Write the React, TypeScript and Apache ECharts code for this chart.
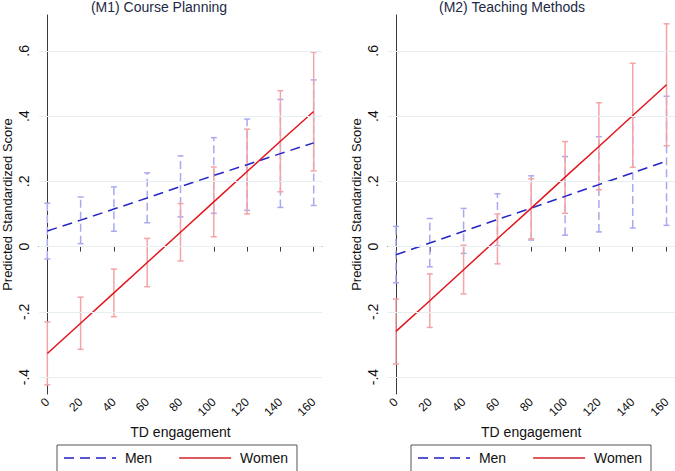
import React, { useEffect, useRef } from "react";
import * as echarts from "echarts";

const engagement = [0, 20, 40, 60, 80, 100, 120, 140, 160];
const xTickValues = [0, 20, 40, 60, 80, 100, 120, 140, 160];
const yTickValues = [-0.4, -0.2, 0, 0.2, 0.4, 0.6];
const yTickLabels = ["-.4", "-.2", "0", ".2", ".4", ".6"];

// (M1) Course Planning
const m1MenFit = [0.048, 0.081, 0.115, 0.149, 0.184, 0.218, 0.251, 0.285, 0.318];
const m1MenLo = [-0.038, 0.009, 0.047, 0.073, 0.091, 0.102, 0.111, 0.12, 0.126];
const m1MenHi = [0.133, 0.152, 0.183, 0.226, 0.278, 0.334, 0.391, 0.451, 0.511];
const m1WomenFit = [-0.328, -0.235, -0.142, -0.049, 0.044, 0.137, 0.23, 0.323, 0.414];
const m1WomenLo = [-0.424, -0.315, -0.215, -0.123, -0.044, 0.03, 0.1, 0.168, 0.232];
const m1WomenHi = [-0.231, -0.155, -0.069, 0.025, 0.132, 0.244, 0.36, 0.478, 0.596];

// (M2) Teaching Methods
const m2MenFit = [-0.025, 0.011, 0.047, 0.083, 0.118, 0.154, 0.19, 0.226, 0.262];
const m2MenLo = [-0.111, -0.062, -0.021, 0.002, 0.02, 0.035, 0.045, 0.057, 0.065];
const m2MenHi = [0.062, 0.086, 0.117, 0.162, 0.217, 0.276, 0.337, 0.397, 0.461];
const m2WomenFit = [-0.26, -0.166, -0.071, 0.024, 0.118, 0.213, 0.307, 0.402, 0.496];
const m2WomenLo = [-0.36, -0.248, -0.145, -0.053, 0.024, 0.102, 0.174, 0.243, 0.309];
const m2WomenHi = [-0.161, -0.084, 0.004, 0.1, 0.208, 0.322, 0.441, 0.562, 0.683];

const panelTitles = ["(M1) Course Planning", "(M2) Teaching Methods"];

const MEN_LINE = "#2626c8";
const WOMEN_LINE = "#e2161c";
const MEN_CI = "#a9a9ef";
const WOMEN_CI = "#f4a4a6";
const MEN_LEGEND = "#5656d2";
const WOMEN_LEGEND = "#e05a5e";
const FONT = "Liberation Sans";

function ciData(lo: number[], hi: number[]) {
  return engagement.map((x, i) => [x, lo[i], hi[i]]);
}

function fitData(fit: number[]) {
  return engagement.map((x, i) => [x, fit[i]]);
}

function ciSeries(name: string, idx: number, lo: number[], hi: number[], color: string, dashed: boolean, z: number) {
  return {
    type: "custom",
    name: name + " CI",
    xAxisIndex: idx,
    yAxisIndex: idx,
    z,
    silent: true,
    encode: { x: 0, y: [1, 2] },
    data: ciData(lo, hi),
    renderItem: (params: any, api: any) => {
      const x = api.value(0);
      const a = api.coord([x, api.value(1)]);
      const b = api.coord([x, api.value(2)]);
      const style = {
        stroke: color,
        lineWidth: 1.5,
        lineDash: dashed ? [8, 4] : null,
        fill: null,
      };
      const capStyle = { stroke: color, lineWidth: 1.5, fill: null };
      return {
        type: "group",
        children: [
          { type: "line", shape: { x1: a[0], y1: a[1], x2: b[0], y2: b[1] }, style },
          { type: "line", shape: { x1: a[0] - 3, y1: a[1], x2: a[0] + 3, y2: a[1] }, style: capStyle },
          { type: "line", shape: { x1: b[0] - 3, y1: b[1], x2: b[0] + 3, y2: b[1] }, style: capStyle },
        ],
      };
    },
  };
}

function fitSeries(name: string, idx: number, fit: number[], color: string, dashed: boolean, z: number) {
  return {
    type: "line",
    name,
    xAxisIndex: idx,
    yAxisIndex: idx,
    z,
    symbol: "none",
    showSymbol: false,
    data: fitData(fit),
    lineStyle: { color, width: 1.5, type: dashed ? [10, 6] : "solid" },
    itemStyle: { color },
  };
}

function gridSeries(idx: number) {
  return {
    type: "line",
    name: "grid" + idx,
    xAxisIndex: idx,
    yAxisIndex: idx,
    z: 0,
    data: [],
    silent: true,
    markLine: {
      silent: true,
      symbol: ["none", "none"],
      label: { show: false },
      lineStyle: { color: "#e6eef1", width: 1, type: "solid" },
      data: yTickValues.map((v) => ({ yAxis: v })),
    },
  };
}

function xAxisOpt(idx: number) {
  return {
    type: "value",
    gridIndex: idx,
    min: -5,
    max: 165,
    name: "TD engagement",
    nameLocation: "middle",
    nameGap: 30,
    nameTextStyle: { fontFamily: FONT, fontSize: 14, color: "#111" },
    axisLine: { show: true, lineStyle: { color: "#3a3a3a", width: 1 } },
    axisTick: { show: true, length: 5, lineStyle: { color: "#3a3a3a" }, customValues: xTickValues },
    axisLabel: {
      rotate: 45,
      margin: 6,
      fontFamily: FONT,
      fontSize: 12,
      color: "#111",
      customValues: xTickValues,
      formatter: (v: number) => String(v),
    },
    splitLine: { show: false },
  };
}

function yAxisOpt(idx: number) {
  return {
    type: "value",
    gridIndex: idx,
    min: -0.452,
    max: 0.71,
    name: "Predicted Standardized Score",
    nameLocation: "middle",
    nameRotate: 90,
    nameGap: 25,
    nameTextStyle: { fontFamily: FONT, fontSize: 13, color: "#111" },
    axisLine: { show: true, lineStyle: { color: "#3a3a3a", width: 1 } },
    axisTick: { show: true, length: 5, lineStyle: { color: "#3a3a3a" }, customValues: yTickValues },
    axisLabel: {
      rotate: 90,
      margin: 8,
      fontFamily: FONT,
      fontSize: 14,
      color: "#111",
      customValues: yTickValues,
      formatter: (v: number) => {
        const i = yTickValues.findIndex((t) => Math.abs(t - v) < 1e-6);
        return i >= 0 ? yTickLabels[i] : "";
      },
    },
    splitLine: { show: false },
  };
}

function legendOpt(left: number) {
  return {
    left,
    top: 445,
    orient: "horizontal",
    data: [
      { name: "Men", itemStyle: { opacity: 0 }, lineStyle: { color: MEN_LEGEND, width: 2 } },
      { name: "Women", itemStyle: { opacity: 0 }, lineStyle: { color: WOMEN_LEGEND, width: 2 } },
    ],
    formatter: (name: string) => " " + name,
    itemWidth: 52,
    itemHeight: 14,
    itemGap: 26,
    padding: [6, 9, 8, 6],
    borderColor: "#555",
    borderWidth: 1,
    backgroundColor: "#fff",
    selectedMode: false,
    itemStyle: { opacity: 0 },
    textStyle: { fontFamily: FONT, fontSize: 14, color: "#111" },
  };
}

export default function App() {
  const ref = useRef<HTMLDivElement>(null);
  useEffect(() => {
    document.body.style.margin = "0";
    const chart = echarts.init(ref.current!, null, { renderer: "svg" });
    chart.setOption({
      animation: false,
      backgroundColor: "#fff",
      title: [
        {
          text: panelTitles[0],
          left: 159,
          top: 0,
          textAlign: "center",
          padding: 0,
          textStyle: { fontFamily: FONT, fontSize: 14, fontWeight: "normal", color: "#1d2a44" },
        },
        {
          text: panelTitles[1],
          left: 512,
          top: 0,
          textAlign: "center",
          padding: 0,
          textStyle: { fontFamily: FONT, fontSize: 14, fontWeight: "normal", color: "#1d2a44" },
        },
      ],
      legend: [legendOpt(57), legendOpt(411)],
      grid: [
        { left: 35, top: 15, width: 287, height: 379, containLabel: false },
        { left: 387.5, top: 15, width: 288, height: 379, containLabel: false },
      ],
      xAxis: [xAxisOpt(0), xAxisOpt(1)],
      yAxis: [yAxisOpt(0), yAxisOpt(1)],
      series: [
        gridSeries(0),
        gridSeries(1),
        ciSeries("Men", 0, m1MenLo, m1MenHi, MEN_CI, true, 1),
        ciSeries("Women", 0, m1WomenLo, m1WomenHi, WOMEN_CI, false, 2),
        fitSeries("Men", 0, m1MenFit, MEN_LINE, true, 3),
        fitSeries("Women", 0, m1WomenFit, WOMEN_LINE, false, 4),
        ciSeries("Men", 1, m2MenLo, m2MenHi, MEN_CI, true, 1),
        ciSeries("Women", 1, m2WomenLo, m2WomenHi, WOMEN_CI, false, 2),
        fitSeries("Men", 1, m2MenFit, MEN_LINE, true, 3),
        fitSeries("Women", 1, m2WomenFit, WOMEN_LINE, false, 4),
      ],
    });
    return () => chart.dispose();
  }, []);
  return <div ref={ref} style={{ width: 675, height: 471 }} />;
}
